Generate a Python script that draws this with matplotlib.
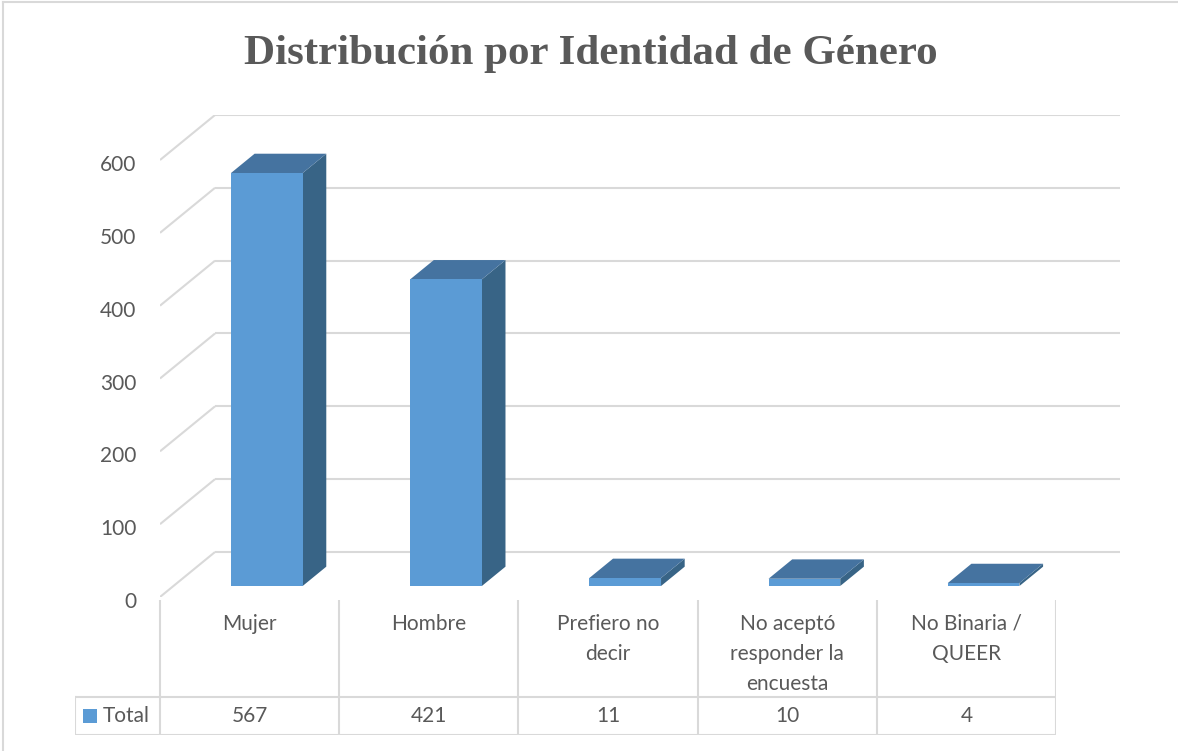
import matplotlib.pyplot as plt
import matplotlib.transforms as mtransforms
from matplotlib.patches import Polygon, Rectangle
from matplotlib.lines import Line2D

# ── data ──────────────────────────────────────────────────────────────
categorias = ["Mujer", "Hombre", "Prefiero no\ndecir",
              "No aceptó\nresponder la\nencuesta", "No Binaria /\nQUEER"]
total = [567, 421, 11, 10, 4]
yticks = [0, 100, 200, 300, 400, 500, 600]
titulo = "Distribución por Identidad de Género"
serie = "Total"

# ── estilo ────────────────────────────────────────────────────────────
C_FRONT = "#5B9BD5"
C_SIDE = "#386486"
C_TOP = "#4573A0"
C_GRID = "#D9D9D9"
C_TEXT = "#595959"
FONT = "Lato"
FS = 15

W, H = 1178, 751
fig = plt.figure(figsize=(W / 100, H / 100), dpi=100)

# proyección oblicua: desplazamiento de la pared del fondo en unidades de datos
DX, DY = 0.307, 61.8      # (categorías, valores)
D1, DD = 0.244, 0.43      # profundidad frontal de la barra y grosor
BX0, BW = 0.321, 0.40     # inicio y ancho de la barra dentro de la categoría
n = len(categorias)

# ── ejes principales (plano frontal: x=categoría, y=valor) ────────────
ax = fig.add_axes([160 / W, 1 - 597 / H, 960 / W, 482 / H])
ax.set_xlim(0, 960 / 179.2)
ax.set_ylim(0, 600 + DY)
for s in ax.spines.values():
    s.set_visible(False)
ax.set_xticks([])
ax.set_yticks(yticks)
ax.tick_params(axis="y", length=0, pad=17, labelsize=FS, labelcolor=C_TEXT)
off = mtransforms.ScaledTranslation(0, -3 / 100, fig.dpi_scale_trans)
for lb in ax.get_yticklabels():
    lb.set_fontfamily(FONT)
    lb.set_transform(lb.get_transform() + off)

# rejilla: diagonal en pared lateral + horizontal en pared del fondo
xr = ax.get_xlim()[1]
for v in yticks:
    ax.plot([0, DX], [v, v + DY], color=C_GRID, lw=1.5, zorder=1,
            solid_capstyle="butt")
    ax.plot([DX, xr], [v + DY, v + DY], color=C_GRID, lw=1.5, zorder=1,
            solid_capstyle="butt")

# barras 3D
for i, v in enumerate(total):
    x0 = i + BX0 + D1 * DX
    x1 = x0 + BW
    y0 = D1 * DY
    ox, oy = DD * DX, DD * DY
    side = Polygon([(x1, y0), (x1 + ox, y0 + oy), (x1 + ox, y0 + v + oy), (x1, y0 + v)],
                   closed=True, facecolor=C_SIDE, edgecolor="none", zorder=3)
    top = Polygon([(x0, y0 + v), (x1, y0 + v), (x1 + ox, y0 + v + oy), (x0 + ox, y0 + v + oy)],
                  closed=True, facecolor=C_TOP, edgecolor="none", zorder=3)
    front = Rectangle((x0, y0), BW, v, facecolor=C_FRONT, edgecolor="none", zorder=4)
    ax.add_patch(side)
    ax.add_patch(top)
    ax.add_patch(front)

# ── tabla de datos ────────────────────────────────────────────────────
tx0 = -85 / 179.2
tab = fig.add_axes([75 / W, 1 - 735 / H, (1056 - 75) / W, 135 / H])
tab.set_xlim(tx0, n)
tab.set_ylim(0, 135)
tab.axis("off")

lk = dict(color=C_GRID, lw=1.5, solid_capstyle="projecting")
for k in range(n + 1):
    tab.add_line(Line2D([k, k], [0, 135], **lk))
tab.add_line(Line2D([tx0, tx0], [0, 38], **lk))
tab.add_line(Line2D([tx0, n], [38, 38], **lk))
tab.add_line(Line2D([tx0, n], [0, 0], **lk))

for i, (c, v) in enumerate(zip(categorias, total)):
    tab.text(i + 0.5, 121, c, ha="center", va="top", fontsize=FS,
             color=C_TEXT, family=FONT, linespacing=1.62)
    tab.text(i + 0.5, 19, str(v), ha="center", va="center", fontsize=FS,
             color=C_TEXT, family=FONT)

# leyenda dentro de la tabla
tab.add_patch(Rectangle((tx0 + 8 / 179.2, 12), 14 / 179.2, 14,
                        facecolor=C_FRONT, edgecolor="none"))
tab.text(tx0 + 28 / 179.2, 19, serie, ha="left", va="center", fontsize=FS,
         color=C_TEXT, family=FONT)

# ── título y borde ────────────────────────────────────────────────────
fig.text(591 / W, 1 - 54 / H, titulo, ha="center", va="center",
         fontsize=31, fontweight="bold", color=C_TEXT, family="Liberation Serif")

fig.add_artist(Line2D([3 / W, 3 / W], [0, 1 - 2 / H], color=C_GRID, lw=1.5))
fig.add_artist(Line2D([3 / W, 1], [1 - 2 / H, 1 - 2 / H], color=C_GRID, lw=1.5))

fig.savefig("out.png", dpi=100)
